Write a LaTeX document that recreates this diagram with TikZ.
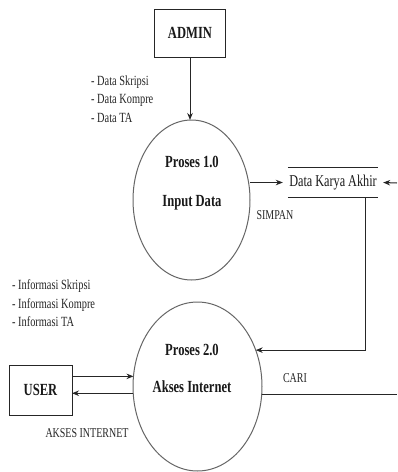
\documentclass[tikz,border=0pt]{standalone}
\usepackage{fontspec}
\setmainfont{Liberation Serif}[FakeStretch=0.74]
\usetikzlibrary{shapes.geometric,arrows.meta}
\begin{document}
\begin{tikzpicture}[x=1pt,y=-1pt,
  ink/.style={draw=black!85,line width=1pt},
  arr/.style={ink,-{Stealth[length=7pt,width=5.5pt]}},
  proc/.style={ellipse,draw=black!60,line width=1pt,inner sep=0pt,outer sep=0pt},
  ent/.style={rectangle,draw=black!85,line width=1pt,inner sep=0pt,outer sep=0pt,font=\fontsize{17}{18}\selectfont\bfseries,text=black!90},
  ptext/.style={font=\fontsize{17}{18}\selectfont\bfseries,text=black!90,inner sep=0pt},
  lab/.style={font=\fontsize{13.5}{15}\selectfont,text=black!85,inner sep=0pt},
  lst/.style={font=\fontsize{14}{18.5}\selectfont,text=black!85,align=left,inner sep=0pt,anchor=west}]
\useasboundingbox (0,0) rectangle (397,472);
\fill[white] (0,0) rectangle (397,472);
% entities
\node[ent,minimum width=71pt,minimum height=48pt] (admin) at (190,33) {ADMIN};
\node[ent,minimum width=63pt,minimum height=50pt] (user) at (40.5,390) {USER};
% processes
\node[proc,minimum width=117pt,minimum height=160pt] (p1) at (191.5,200) {};
\node[proc,minimum width=129pt,minimum height=169pt] (p2) at (197.5,386.5) {};
\node[ptext] (p1a) at (192,162) {Proses 1.0};
\node[ptext] (p1b) at (192,203) {Input Data};
\node[ptext] (p2a) at (192,350) {Proses 2.0};
\node[ptext] (p2b) at (192,387) {Akses Internet};
% data store
\node[font=\fontsize{16.5}{18}\selectfont,text=black!90,inner sep=0pt,minimum width=90pt,minimum height=29pt] (store) at (333,182.5) {Data Karya Akhir};
\draw[ink] (store.north west) -- (store.north east);
\draw[ink] (store.south west) -- (store.south east);
% free ends at the right edge
\coordinate (rin) at (397,183);
\coordinate (rout) at (397,394);
% labels
\node[lst] (ldata) at (91,99) {- Data Skripsi\\- Data Kompre\\- Data TA};
\node[lst] (linfo) at (12,303.5) {- Informasi Skripsi\\- Informasi Kompre\\- Informasi TA};
\node[lab] (lsimpan) at (275,215) {SIMPAN};
\node[lab] (lcari) at (295,378) {CARI};
\node[lab] (lakses) at (87,433) {AKSES INTERNET};
% connectors
\draw[arr] (admin.south) -- (admin.south |- p1.north);
\draw[arr] (p1.east |- store.west) -- ([xshift=-5pt]store.west);
\draw[arr] (rin) -- ([xshift=5pt]store.east);
\draw[arr] ([xshift=32pt]store.south) |- (p2.32);
\draw[ink] (p2.-7) -- (rout |- p2.-7);
\draw[arr] (user.east |- p2.171) -- (p2.171);
\draw[arr] (p2.186) -- (user.east |- p2.186);
\end{tikzpicture}
\end{document}
